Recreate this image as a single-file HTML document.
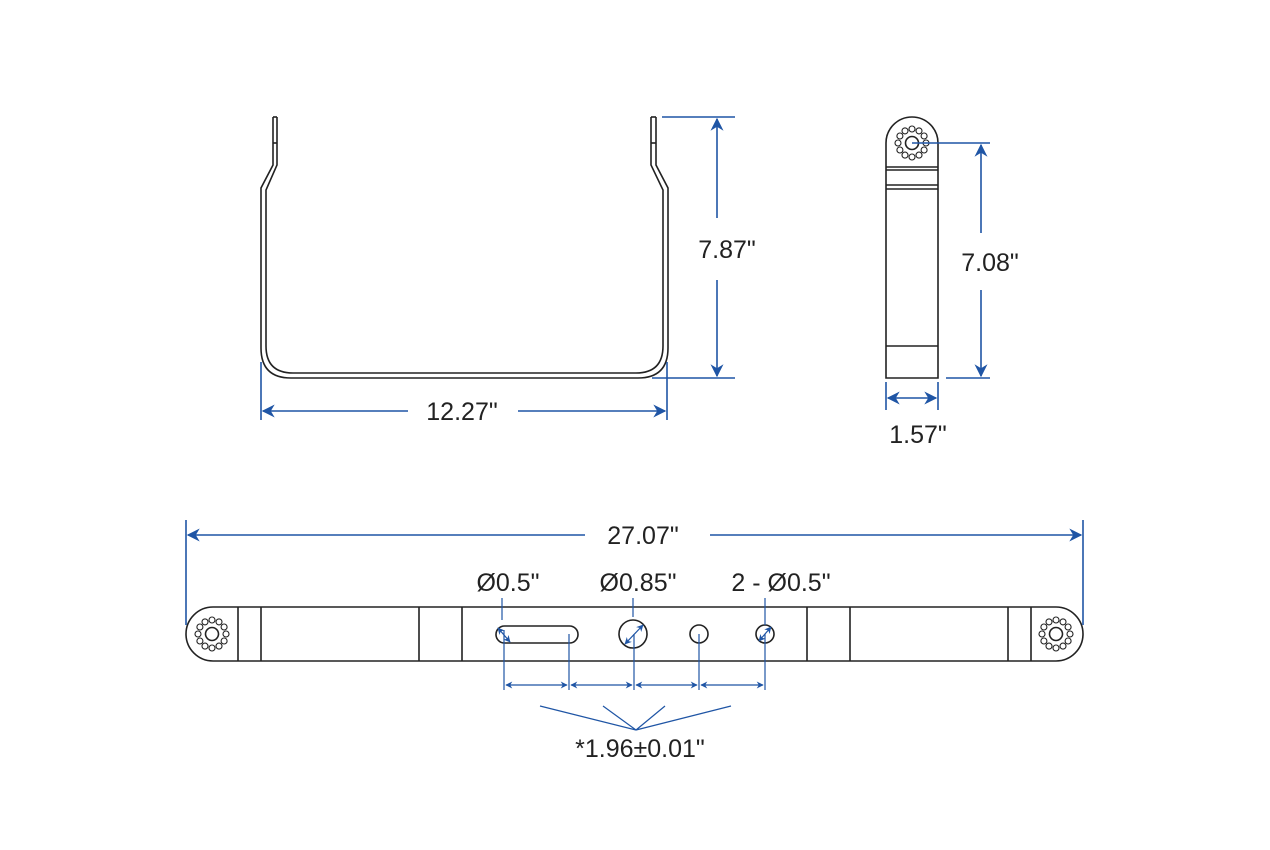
<!DOCTYPE html>
<html><head><style>body{margin:0;background:#fff}svg{display:block}</style></head><body>
<svg width="1270" height="850" viewBox="0 0 1270 850" xmlns="http://www.w3.org/2000/svg" font-family="Liberation Sans, sans-serif">
<defs>
<marker id="a" viewBox="0 0 10 10" refX="9" refY="5" markerWidth="15" markerHeight="13" orient="auto-start-reverse" markerUnits="userSpaceOnUse"><path d="M0,0 L10,5 L0,10 L3,5z" fill="#1f55a5"/></marker>
<marker id="s" viewBox="0 0 10 10" refX="9" refY="5" markerWidth="8" markerHeight="7" orient="auto-start-reverse" markerUnits="userSpaceOnUse"><path d="M0,0 L10,5 L0,10 L3,5z" fill="#1f55a5"/></marker>
</defs>
<g fill="none" stroke="#222" stroke-width="1.6">
<path d="M273,117 L273,165 L261,188 L261,348 Q261,378 291,378 L638,378 Q668,378 668,348 L668,188 L656,165 L656,117"/>
<path d="M277,117 L277,165 L266,190 L266,346 Q266,373 293,373 L636,373 Q663,373 663,346 L663,190 L651,165 L651,117"/>
<line x1="273" y1="117" x2="277" y2="117"/><line x1="651" y1="117" x2="656" y2="117"/>
<line x1="273" y1="143" x2="277" y2="143"/><line x1="651" y1="143" x2="656" y2="143"/>
<path d="M886,378 L886,143 A26,26 0 0 1 938,143 L938,378 Z"/>
<line x1="886" y1="167" x2="938" y2="167"/><line x1="886" y1="170" x2="938" y2="170"/>
<line x1="886" y1="185" x2="938" y2="185"/><line x1="886" y1="189" x2="938" y2="189"/>
<line x1="886" y1="346" x2="938" y2="346"/>
<circle cx="912" cy="143" r="6.5"/>
<g stroke-width="1.1" id="ring0">
<circle cx="926" cy="143" r="3"/><circle cx="924.1" cy="136" r="3"/><circle cx="919" cy="130.9" r="3"/><circle cx="912" cy="129" r="3"/><circle cx="905" cy="130.9" r="3"/><circle cx="899.9" cy="136" r="3"/><circle cx="898" cy="143" r="3"/><circle cx="899.9" cy="150" r="3"/><circle cx="905" cy="155.1" r="3"/><circle cx="912" cy="157" r="3"/><circle cx="919" cy="155.1" r="3"/><circle cx="924.1" cy="150" r="3"/>
</g>
<path d="M213,607 L1056,607 A27,27 0 0 1 1056,661 L213,661 A27,27 0 0 1 213,607 Z"/>
<line x1="238" y1="607" x2="238" y2="661"/><line x1="261" y1="607" x2="261" y2="661"/>
<line x1="419" y1="607" x2="419" y2="661"/><line x1="462" y1="607" x2="462" y2="661"/>
<line x1="807" y1="607" x2="807" y2="661"/><line x1="850" y1="607" x2="850" y2="661"/>
<line x1="1008" y1="607" x2="1008" y2="661"/><line x1="1031" y1="607" x2="1031" y2="661"/>
<circle cx="212" cy="634" r="6.5"/><circle cx="1056" cy="634" r="6.5"/>
<use href="#ring0" transform="translate(-700,491)"/>
<use href="#ring0" transform="translate(144,491)"/>
<rect x="496" y="626" width="82" height="17" rx="8.5"/>
<circle cx="633" cy="634" r="14"/><circle cx="699" cy="634" r="9"/><circle cx="765" cy="634" r="9"/>
</g>
<g stroke="#1f55a5" stroke-width="1.6" fill="none">
<line x1="662" y1="117" x2="735" y2="117"/><line x1="652" y1="378" x2="735" y2="378"/>
<line x1="717" y1="119" x2="717" y2="218" marker-start="url(#a)"/><line x1="717" y1="280" x2="717" y2="376" marker-end="url(#a)"/>
<line x1="261" y1="362" x2="261" y2="420"/><line x1="667" y1="362" x2="667" y2="420"/>
<line x1="263" y1="411" x2="408" y2="411" marker-start="url(#a)"/><line x1="518" y1="411" x2="665" y2="411" marker-end="url(#a)"/>
<line x1="912" y1="143" x2="990" y2="143"/><line x1="946" y1="378" x2="990" y2="378"/>
<line x1="981" y1="145" x2="981" y2="233" marker-start="url(#a)"/><line x1="981" y1="290" x2="981" y2="376" marker-end="url(#a)"/>
<line x1="886" y1="382" x2="886" y2="410"/><line x1="938" y1="382" x2="938" y2="410"/>
<line x1="888" y1="398" x2="936" y2="398" marker-start="url(#a)" marker-end="url(#a)"/>
<line x1="186" y1="520" x2="186" y2="625"/><line x1="1083" y1="520" x2="1083" y2="625"/>
<line x1="188" y1="535" x2="585" y2="535" marker-start="url(#a)"/><line x1="710" y1="535" x2="1081" y2="535" marker-end="url(#a)"/>
<g stroke-width="1.2">
<line x1="502" y1="598" x2="502" y2="620"/><line x1="633" y1="598" x2="633" y2="617"/><line x1="765" y1="598" x2="765" y2="625"/>
<line x1="504" y1="630" x2="504" y2="690"/><line x1="569" y1="634" x2="569" y2="690"/><line x1="634" y1="634" x2="634" y2="690"/><line x1="699" y1="634" x2="699" y2="690"/><line x1="765" y1="634" x2="765" y2="690"/>
<line x1="506" y1="685" x2="567" y2="685" marker-start="url(#s)" marker-end="url(#s)"/>
<line x1="571" y1="685" x2="632" y2="685" marker-start="url(#s)" marker-end="url(#s)"/>
<line x1="636" y1="685" x2="697" y2="685" marker-start="url(#s)" marker-end="url(#s)"/>
<line x1="701" y1="685" x2="763" y2="685" marker-start="url(#s)" marker-end="url(#s)"/>
<line x1="498" y1="628" x2="510" y2="642" marker-start="url(#s)" marker-end="url(#s)"/>
<line x1="625" y1="644" x2="643" y2="625" marker-start="url(#s)" marker-end="url(#s)"/>
<line x1="759" y1="641" x2="771" y2="627" marker-start="url(#s)" marker-end="url(#s)"/>
<polyline points="540,706 636,730 603,706"/><polyline points="665,706 636,730 731,706"/>
</g>
</g>
<g fill="#222" font-size="25" text-anchor="middle">
<text x="727" y="258">7.87"</text>
<text x="462" y="420">12.27"</text>
<text x="990" y="271">7.08"</text>
<text x="918" y="443">1.57"</text>
<text x="643" y="544">27.07"</text>
<text x="508" y="591">Ø0.5"</text>
<text x="638" y="591">Ø0.85"</text>
<text x="781" y="591">2 - Ø0.5"</text>
<text x="640" y="757">*1.96±0.01"</text>
</g>
</svg>
</body></html>
